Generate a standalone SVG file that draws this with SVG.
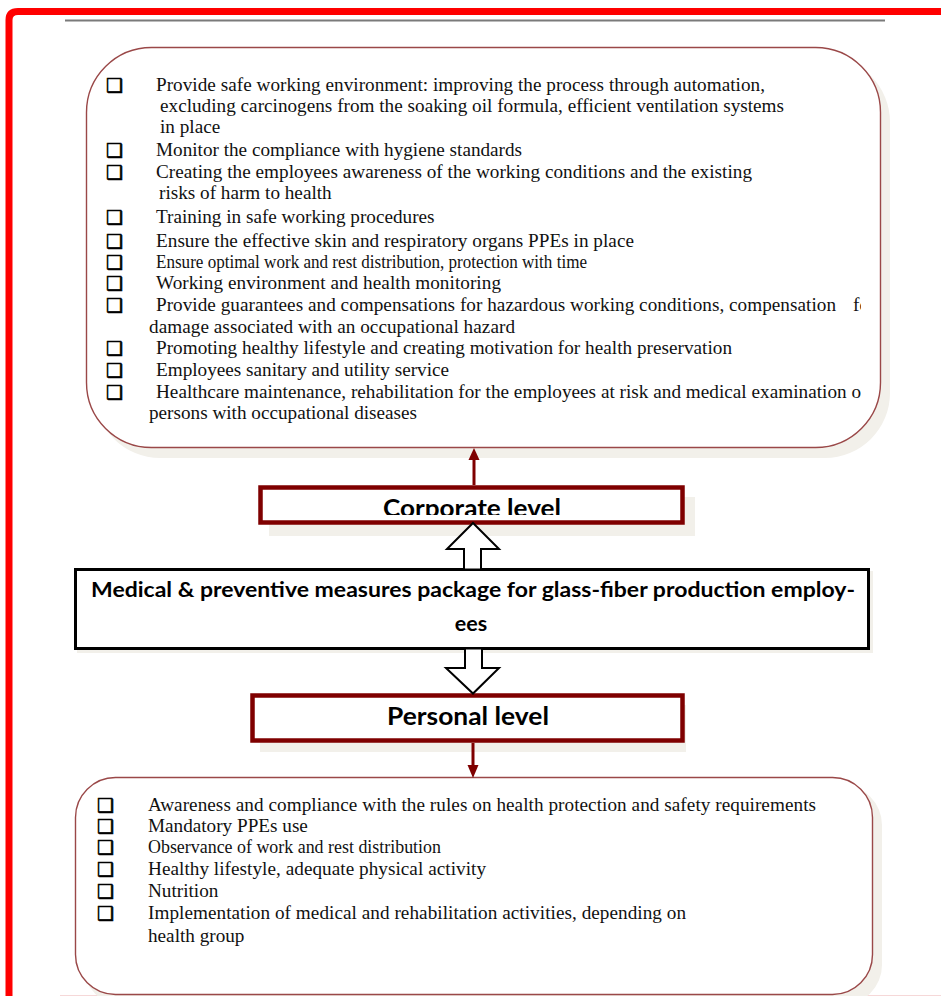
<svg xmlns="http://www.w3.org/2000/svg" width="941" height="996" viewBox="0 0 941 996">
<style>
.t{font-family:"Liberation Serif","Times New Roman",serif;font-size:19.2px;fill:#111}
.b{font-family:"DejaVu Sans",sans-serif;font-size:19px;fill:#000;stroke:#000;stroke-width:0.6}
.lbl{font-family:Lato,"Liberation Sans",sans-serif;font-weight:700;fill:#000}
.rbox{fill:#fff;stroke:#7f0000;stroke-width:4.5}
.shadow{fill:#f2f0ea}
.round{fill:#fff;stroke:#9a4848;stroke-width:1.4}
.hollow{fill:#fff;stroke:#000;stroke-width:2;stroke-linejoin:miter}
.red{stroke:#7f0000;stroke-width:3;fill:none}
</style>
<defs>
<clipPath id="cr"><rect x="0" y="0" width="861" height="996"/></clipPath>
<clipPath id="cc"><rect x="262" y="489" width="420" height="26"/></clipPath>
</defs>
<rect x="0" y="0" width="941" height="996" fill="#fff"/>
<g id="frame">
<line x1="65" y1="20.5" x2="885" y2="20.5" stroke="#7a7a7a" stroke-width="2.2"/>
<path d="M9,996 L9,20 Q9,11.5 18,11.5 L941,11.5" fill="none" stroke="#ff0000" stroke-width="7"/>
<line x1="60" y1="995.5" x2="941" y2="995.5" stroke="#f6d8d8" stroke-width="1"/>
</g>
<g id="corporate-measures">
<rect class="shadow" x="95" y="57" width="795" height="401" rx="65"/>
<rect class="round" x="86.5" y="47.5" width="794" height="400" rx="65"/>
<g class="b">
<text x="106" y="92">❑</text><text x="106" y="157">❑</text><text x="106" y="179">❑</text><text x="106" y="224">❑</text><text x="106" y="248">❑</text><text x="106" y="269">❑</text><text x="106" y="290">❑</text><text x="106" y="312">❑</text><text x="106" y="355">❑</text><text x="106" y="377">❑</text><text x="106" y="399">❑</text>
</g>
<g class="t">
<text x="156" y="91" textLength="609" lengthAdjust="spacing">Provide safe working environment: improving the process through automation,</text>
<text x="160" y="112" textLength="624" lengthAdjust="spacing">excluding carcinogens from the soaking oil formula, efficient ventilation systems</text>
<text x="160" y="133">in place</text>
<text x="156" y="156">Monitor the compliance with hygiene standards</text>
<text x="156" y="178" textLength="596" lengthAdjust="spacing">Creating the employees awareness of the working conditions and the existing</text>
<text x="159" y="199">risks of harm to health</text>
<text x="156" y="223">Training in safe working procedures</text>
<text x="156" y="247" textLength="478" lengthAdjust="spacing">Ensure the effective skin and respiratory organs PPEs in place</text>
<text x="156" y="268" textLength="431" lengthAdjust="spacingAndGlyphs">Ensure optimal work and rest distribution, protection with time</text>
<text x="156" y="289" textLength="345" lengthAdjust="spacing">Working environment and health monitoring</text>
<text x="156" y="311" textLength="680" lengthAdjust="spacing">Provide guarantees and compensations for hazardous working conditions, compensation</text>
<text x="853" y="311" clip-path="url(#cr)">fo</text>
<text x="149" y="333" textLength="366" lengthAdjust="spacing">damage associated with an occupational hazard</text>
<text x="156" y="354" textLength="576" lengthAdjust="spacing">Promoting healthy lifestyle and creating motivation for health preservation</text>
<text x="156" y="376">Employees sanitary and utility service</text>
<text x="156" y="398" textLength="705" lengthAdjust="spacing">Healthcare maintenance, rehabilitation for the employees at risk and medical examination o</text>
<text x="149" y="419">persons with occupational diseases</text>
</g>
</g>
<g id="corporate-level">
<rect class="shadow" x="269" y="497" width="426" height="39"/>
<rect class="rbox" x="260.5" y="487.5" width="422" height="35"/>
<text class="lbl" x="383" y="517" font-size="24" textLength="178" lengthAdjust="spacingAndGlyphs" clip-path="url(#cc)">Corporate level</text>
</g>
<g id="medical-package">
<rect class="shadow" x="77" y="571" width="796" height="82"/>
<rect x="75.5" y="569.5" width="793" height="79" fill="#fff" stroke="#000" stroke-width="3"/>
<text class="lbl" x="91" y="597" font-size="21.5" textLength="764" lengthAdjust="spacingAndGlyphs">Medical &amp; preventive measures package for glass-fiber production employ-</text>
<text class="lbl" x="471" y="631" font-size="21.5" text-anchor="middle">ees</text>
</g>
<g id="personal-level">
<rect class="shadow" x="260" y="705" width="426" height="47"/>
<rect class="rbox" x="252.5" y="695.5" width="430" height="45"/>
<text class="lbl" x="387" y="725" font-size="24" textLength="162" lengthAdjust="spacingAndGlyphs">Personal level</text>
</g>
<g id="personal-measures">
<rect class="shadow" x="83" y="785" width="799" height="220" rx="40"/>
<rect class="round" x="75.5" y="777.5" width="797" height="217" rx="40"/>
<g class="b">
<text x="97" y="812">❑</text><text x="97" y="833">❑</text><text x="97" y="854">❑</text><text x="97" y="876">❑</text><text x="97" y="898">❑</text><text x="97" y="920">❑</text>
</g>
<g class="t">
<text x="148" y="811" textLength="668" lengthAdjust="spacing">Awareness and compliance with the rules on health protection and safety requirements</text>
<text x="148" y="832">Mandatory PPEs use</text>
<text x="148" y="853" textLength="293" lengthAdjust="spacingAndGlyphs">Observance of work and rest distribution</text>
<text x="148" y="875" textLength="338" lengthAdjust="spacing">Healthy lifestyle, adequate physical activity</text>
<text x="148" y="897">Nutrition</text>
<text x="148" y="919" textLength="538" lengthAdjust="spacing">Implementation of medical and rehabilitation activities, depending on</text>
<text x="148" y="942">health group</text>
</g>
</g>
<g id="connectors">
<line class="red" x1="474" y1="485" x2="474" y2="459"/>
<path d="M468.5,460 L474,448 L479.5,460 Z" fill="#7f0000"/>
<line class="red" x1="473" y1="743" x2="473" y2="766"/>
<path d="M467.5,765 L473,778 L478.5,765 Z" fill="#7f0000"/>
<path class="hollow" d="M473,523 L499,549 L481,549 L481,569.5 L464,569.5 L464,549 L447,549 Z"/>
<path class="hollow" d="M465,648.5 L482,648.5 L482,668 L499,668 L473,693.5 L446,668 L465,668 Z"/>
</g>
</svg>
